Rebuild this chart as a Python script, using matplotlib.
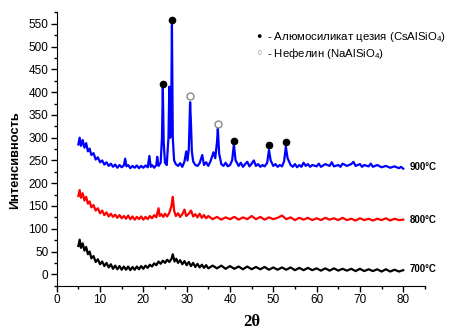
import matplotlib
matplotlib.use("Agg")
import matplotlib.pyplot as plt
from matplotlib.ticker import MultipleLocator

plt.rcParams['font.family'] = ['Liberation Sans', 'DejaVu Sans']
plt.rcParams['mathtext.fontset'] = 'custom'
plt.rcParams['mathtext.rm'] = 'Liberation Sans'
plt.rcParams['mathtext.it'] = 'Liberation Sans'

# ---- data ----
x900 = [5.0, 5.3, 5.6, 6.0, 6.4, 6.8, 7.2, 7.6, 8.0, 8.5, 9.0, 9.5, 10, 10.5, 11, 11.5, 12, 12.5, 13, 13.5,
        14, 14.5, 15, 15.5, 15.8, 16.1, 16.5, 17, 17.5, 18, 18.5, 19, 19.5, 20, 20.5, 21, 21.4, 21.7, 22, 22.5,
        23, 23.2, 23.5, 24.0, 24.3, 24.5, 24.7, 25.0, 25.4, 25.8, 26.0, 26.2, 26.4, 26.6, 26.8, 27.1, 27.5, 28,
        28.5, 29, 29.5, 29.9, 30.2, 30.5, 30.8, 31.0, 31.2, 31.5, 32, 32.5, 33, 33.6, 34, 34.5, 35, 35.5, 36.2,
        36.6, 37.0, 37.2, 37.5, 38, 38.5, 39, 39.5, 40, 40.5, 40.9, 41.3, 42, 42.5, 43, 43.5, 44, 44.5, 45, 45.5,
        46, 46.5, 47, 47.5, 48, 48.6, 49.0, 49.4, 50, 50.5, 51, 51.5, 52, 52.5, 52.9, 53.3, 54, 54.5, 55, 55.5,
        56, 56.5, 57, 57.5, 58, 58.5, 59, 60, 60.5, 61, 62, 63, 63.5, 64, 65, 65.5, 66, 67, 68, 68.5, 69, 70,
        70.5, 71, 72, 72.5, 73, 74, 75, 76, 77, 78, 79, 79.5, 80]
y900 = [285, 300, 282, 295, 278, 288, 270, 276, 262, 266, 252, 257, 246, 250, 241, 246, 238, 243, 236, 241,
        234, 240, 235, 239, 254, 237, 240, 233, 238, 234, 239, 233, 238, 234, 239, 235, 260, 236, 240, 234,
        240, 258, 238, 245, 300, 410, 290, 245, 240, 300, 412, 300, 320, 548, 300, 250, 242, 238,
        244, 236, 248, 270, 250, 275, 378, 330, 270, 248, 240, 238, 244, 262, 240, 246, 238, 248, 268,
        255, 290, 320, 265, 242, 238, 245, 237, 240, 250, 285, 250, 238, 245, 236, 242, 247, 237, 243, 250,
        238, 242, 236, 240, 237, 245, 273, 250, 238, 242, 236, 240, 237, 248, 280, 255, 240, 236, 242, 235,
        240, 236, 245, 238, 242, 236, 240, 237, 243, 236, 242, 238, 246, 237, 240, 236, 243, 238, 242, 247, 238, 242,
        236, 240, 237, 243, 236, 240, 235, 238, 234, 237, 233, 236, 232]

x800 = [5.0, 5.3, 5.6, 6.0, 6.4, 6.8, 7.2, 7.6, 8.0, 8.5, 9.0, 9.5, 10, 10.5, 11, 11.5, 12, 12.5, 13, 13.5,
        14, 14.5, 15, 15.5, 16, 16.5, 17, 17.5, 18, 18.5, 19, 19.5, 20, 20.5, 21, 21.5, 22, 22.5, 23, 23.5,
        23.8, 24.2, 24.6, 25, 25.5, 26, 26.5, 26.8, 27.1, 27.5, 28, 28.5, 29, 29.5, 29.9, 30.5, 31, 31.5, 32,
        32.5, 33, 33.5, 34, 34.5, 35, 36, 37, 38, 39, 40, 41, 42, 43, 44, 45, 46, 47, 48, 49, 50, 51, 52, 53,
        54, 55, 56, 57, 58, 59, 60, 61, 62, 63, 64, 65, 66, 67, 68, 69, 70, 71, 72, 73, 74, 75, 76, 77, 78, 79, 80]
y800 = [172, 185, 168, 178, 162, 170, 155, 160, 147, 152, 140, 145, 134, 140, 130, 136, 127, 133, 126, 131,
        124, 130, 123, 128, 122, 129, 121, 127, 120, 126, 121, 127, 120, 126, 121, 128, 123, 130, 125, 145,
        128, 132, 126, 133, 127, 135, 150, 170, 140, 128, 134, 126, 132, 142, 128, 133, 140, 127, 132,
        125, 133, 124, 130, 123, 128, 121, 126, 120, 125, 121, 126, 120, 125, 121, 128, 121, 126, 120, 125, 121, 124, 129, 121,
        125, 119, 124, 120, 124, 119, 123, 119, 124, 120, 123, 119, 124, 119, 122, 118, 123, 119, 122, 118, 122, 119, 123, 118, 122, 119, 120]

x700 = [5.0, 5.3, 5.6, 6.0, 6.4, 6.8, 7.2, 7.6, 8.0, 8.5, 9.0, 9.5, 10, 10.5, 11, 11.5, 12, 12.5, 13, 13.5,
        14, 14.5, 15, 15.5, 16, 16.5, 17, 17.5, 18, 18.5, 19, 19.5, 20, 20.5, 21, 21.5, 22, 22.5, 23, 23.5,
        24, 24.5, 25, 25.5, 26, 26.5, 26.8, 27.2, 27.6, 28, 28.5, 29, 29.5, 30, 30.5, 31, 31.5, 32, 32.5, 33,
        33.5, 34, 34.5, 35, 36, 37, 38, 39, 40, 41, 42, 43, 44, 45, 46, 47, 48, 49, 50, 51, 52, 53, 54, 55,
        56, 57, 58, 59, 60, 61, 62, 63, 64, 65, 66, 67, 68, 69, 70, 71, 72, 73, 74, 75, 76, 77, 78, 79, 80]
y700 = [62, 76, 58, 68, 52, 60, 44, 50, 35, 40, 27, 33, 22, 28, 18, 25, 15, 22, 12, 19,
        11, 18, 10, 17, 10, 17, 9, 16, 10, 17, 11, 18, 12, 19, 14, 21, 17, 24, 20, 28,
        23, 30, 25, 32, 27, 34, 44, 28, 34, 25, 31, 22, 29, 20, 27, 18, 25, 16, 23, 15,
        21, 14, 20, 13, 19, 13, 19, 12, 18, 12, 17, 11, 17, 11, 16, 11, 16, 10, 15, 10, 15, 10, 15, 9,
        14, 9, 14, 9, 13, 8, 13, 8, 13, 8, 12, 8, 12, 7, 12, 7, 11, 7, 11, 6, 11, 6, 10, 6, 9]

cs_x = [24.5, 26.6, 40.9, 49.0, 52.9]
cs_y = [418, 558, 293, 283, 290]
ne_x = [30.8, 37.2]
ne_y = [392, 330]

series_labels = ['900°C', '800°C', '700°C']
label_y = [236, 120, 12]

# ---- figure ----
fig = plt.figure(figsize=(4.49, 3.31), dpi=100)
ax = fig.add_axes([0.1263, 0.137, 0.820, 0.828])

ax.plot(x900, y900, color='#0000ff', lw=1.6)
ax.plot(x800, y800, color='#ff0000', lw=1.6)
ax.plot(x700, y700, color='black', lw=1.6)

ax.plot(cs_x, cs_y, 'o', color='black', ms=4.5, ls='none')
ax.plot(ne_x, ne_y, 'o', mfc='white', mec='#888888', mew=1.0, ms=5, ls='none')

for lab, yv in zip(series_labels, label_y):
    ax.text(81.5, yv, lab, fontsize=7, fontweight='bold', va='center', ha='left')

ax.set_xlim(0, 85)
ax.set_ylim(-25, 577)
ax.xaxis.set_major_locator(MultipleLocator(10))
ax.xaxis.set_minor_locator(MultipleLocator(5))
ax.yaxis.set_major_locator(MultipleLocator(50))
ax.yaxis.set_minor_locator(MultipleLocator(25))
ax.set_xticks(range(0, 81, 10))
ax.set_xlim(0, 85)
ax.tick_params(axis='both', which='major', length=4, width=1, labelsize=8.5, pad=2)
ax.tick_params(axis='both', which='minor', length=2, width=1)
ax.spines['top'].set_visible(False)
ax.spines['right'].set_visible(False)

ax.set_xlabel('2θ', fontsize=12, fontweight='bold', family=['Liberation Serif', 'DejaVu Serif'])
ax.xaxis.set_label_coords(0.53, -0.134)
ax.xaxis.label.set_va('center')
ax.set_ylabel('Интенсивность', fontsize=9.2, fontweight='bold')
ax.yaxis.set_label_coords(-0.113, 0.458)
ax.yaxis.label.set_va('center')

# legend annotations
fig.text(0.577, 0.889, '●', fontsize=6.5, va='center', ha='center')
fig.text(0.594, 0.889, '- Алюмосиликат цезия (CsAlSiO$_4$)', fontsize=8.2, va='center', ha='left')
fig.text(0.577, 0.839, '○', fontsize=6.5, va='center', ha='center', color='#888888')
fig.text(0.594, 0.839, '- Нефелин (NaAlSiO$_4$)', fontsize=8.2, va='center', ha='left')

fig.savefig('out.png', dpi=100)
